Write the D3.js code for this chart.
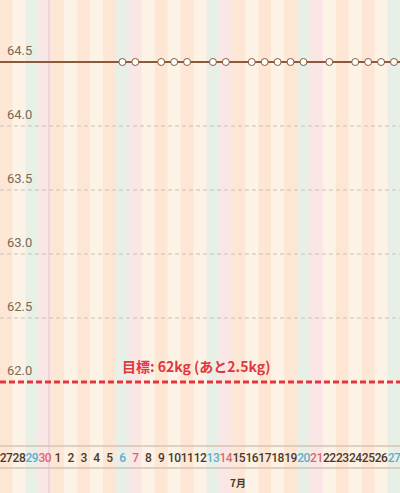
<!DOCTYPE html>
<html><head><meta charset="utf-8">
<script src="https://cdn.jsdelivr.net/npm/d3@7"></script>
<style>body{margin:0;background:#fff}svg{display:block}</style>
</head><body>
<script>
// days shown on x axis: June 27..30, July 1..27
var dayLabels = ['27','28','29','30'];
for (var i = 1; i <= 27; i++) dayLabels.push(String(i));
var satIdx = [2, 9, 16, 23, 30];   // 29, 6, 13, 20, 27
var sunIdx = [3, 10, 17, 24];      // 30, 7, 14, 21
var weighDays = [6,7,9,10,11,13,14,16,17,18,19,20,22,24,25,26,27];
var weights = [64.5,64.5,64.5,64.5,64.5,64.5,64.5,64.5,64.5,64.5,64.5,64.5,64.5,64.5,64.5,64.5,64.5];
var yTicks = [62.0, 62.5, 63.0, 63.5, 64.0, 64.5];
var goal = 62.0;

var W = 400, H = 493;
var svg = d3.select('body').append('svg').attr('width', W).attr('height', H);

var x = d3.scaleLinear().domain([0, 30]).range([6, 394]);
var y = d3.scaleLinear().domain([62, 64.5]).range([382, 62]);
var step = x(1) - x(0);

// column stripes
svg.selectAll('rect.col')
	.data(dayLabels)
	.enter().append('rect')
		.attr('class', 'col')
		.attr('x', (d, i) => x(i) - step / 2)
		.attr('y', 0)
		.attr('width', step + 0.5)
		.attr('height', H)
		.attr('fill', (d, i) => satIdx.includes(i) ? '#e8efe6' : sunIdx.includes(i) ? '#fbe6e6' : (i % 2 ? '#fdf2e6' : '#fde7d4'));

// month boundary
svg.append('line')
	.attr('x1', 49).attr('x2', 49).attr('y1', 0).attr('y2', H)
	.attr('stroke', '#e6c4c4').attr('stroke-width', 1);

// grid lines
svg.selectAll('line.grid')
	.data(yTicks.filter(d => d != goal && d != 64.5))
	.enter().append('line')
		.attr('class', 'grid')
		.attr('x1', 0).attr('x2', W)
		.attr('y1', d => y(d)).attr('y2', d => y(d))
		.attr('stroke', '#c8c0b8').attr('stroke-dasharray', '4,3');

svg.selectAll('text.ytick')
	.data(yTicks)
	.enter().append('text')
		.attr('class', 'ytick')
		.attr('x', 7).attr('y', d => y(d) - 7)
		.attr('fill', '#7a6a5a').attr('font-family', 'Roboto, sans-serif').attr('font-size', 13)
		.text(d => d.toFixed(1));

// goal
svg.append('line')
	.attr('x1', 0).attr('x2', W).attr('y1', y(goal)).attr('y2', y(goal))
	.attr('stroke', '#e0373f').attr('stroke-width', 3).attr('stroke-dasharray', '6,3');
svg.append('text')
	.attr('x', 122).attr('y', y(goal) - 10)
	.attr('fill', '#e0373f').attr('font-weight', 'bold').attr('font-size', 14)
	.attr('font-family', '"Noto Sans CJK JP", sans-serif')
	.text('目標: 62kg (あと2.5kg)');

// weight line
svg.append('line')
	.attr('x1', 0).attr('x2', W).attr('y1', y(weights[0])).attr('y2', y(weights[0]))
	.attr('stroke', '#8a5a3a').attr('stroke-width', 2);
svg.selectAll('circle')
	.data(weighDays)
	.enter().append('circle')
		.attr('cx', d => x(d + 3))
		.attr('cy', (d, i) => y(weights[i]))
		.attr('r', 3.5)
		.attr('fill', '#fff').attr('stroke', '#8a5a3a').attr('stroke-width', 1);

// x axis band
[446, 468].forEach(v => svg.append('line').attr('x1', 0).attr('x2', W).attr('y1', v).attr('y2', v)
	.attr('stroke', '#d6c4b4').attr('stroke-width', 1.5));
svg.selectAll('text.day')
	.data(dayLabels)
	.enter().append('text')
		.attr('class', 'day')
		.attr('x', (d, i) => x(i)).attr('y', 462)
		.attr('text-anchor', 'middle')
		.attr('font-family', 'Roboto, sans-serif').attr('font-size', 12).attr('font-weight', 500)
		.attr('letter-spacing', -0.5)
		.attr('fill', (d, i) => satIdx.includes(i) ? '#5aaed0' : sunIdx.includes(i) ? '#d86a6a' : '#4a3a2a')
		.text(d => d);

svg.append('text').attr('x', 238).attr('y', 487).attr('text-anchor', 'middle')
	.attr('font-family', '"Noto Sans CJK JP", sans-serif').attr('font-size', 10).attr('font-weight', 'bold')
	.attr('fill', '#4a3a2a').text('7月');
</script>
</body></html>
